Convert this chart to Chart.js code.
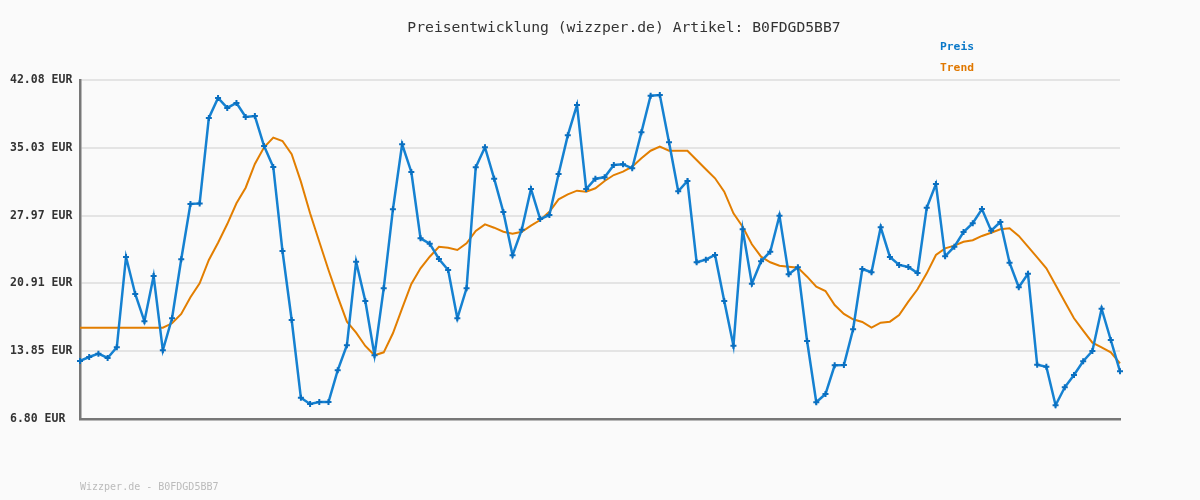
<!DOCTYPE html>
<html lang="de">
<head>
<meta charset="utf-8">
<title>Preisentwicklung B0FDGD5BB7</title>
<script src="https://cdn.jsdelivr.net/npm/chart.js@4.4.1/dist/chart.umd.min.js"></script>
<style>
    html, body { margin: 0; padding: 0; background: #fafafa; }
    #wrap { width: 1200px; height: 500px; }
</style>
</head>
<body>
<div id="wrap"><canvas id="priceChart" width="1200" height="500"></canvas></div>
<script>
// Price history (EUR), one value per sample
const preis = [
    12.84, 13.25, 13.60, 13.15, 14.26, 23.66, 19.81, 16.97, 21.68, 13.95,
    17.28, 23.42, 29.18, 29.24, 38.13, 40.21, 39.17, 39.69, 38.23, 38.33,
    35.21, 33.03, 24.28, 17.10, 9.00, 8.36, 8.57, 8.57, 11.87, 14.47,
    23.17, 19.08, 13.43, 20.40, 28.62, 35.39, 32.51, 25.60, 25.05, 23.45,
    22.31, 17.28, 20.40, 32.99, 35.08, 31.81, 28.34, 23.84, 26.50, 30.74,
    27.61, 28.03, 32.30, 36.32, 39.48, 30.74, 31.81, 31.95, 33.23, 33.31,
    32.89, 36.64, 40.45, 40.52, 35.60, 30.50, 31.57, 23.11, 23.38, 23.87,
    19.08, 14.43, 26.54, 20.88, 23.21, 24.21, 27.96, 21.86, 22.59, 14.92,
    8.54, 9.40, 12.39, 12.42, 16.14, 22.41, 22.07, 26.75, 23.66, 22.83,
    22.62, 21.99, 28.79, 31.26, 23.73, 24.73, 26.26, 27.17, 28.65, 26.40,
    27.30, 23.07, 20.51, 21.92, 12.45, 12.24, 8.23, 10.10, 11.38, 12.81,
    13.88, 18.28, 15.02, 11.76
];

// Trend line (EUR)
const trend = [
    16.30, 16.30, 16.30, 16.30, 16.30, 16.30, 16.30, 16.30, 16.30, 16.30,
    16.76, 17.73, 19.47, 20.92, 23.35, 25.15, 27.09, 29.25, 30.87, 33.34,
    35.08, 36.08, 35.73, 34.35, 31.50, 28.21, 25.25, 22.31, 19.53, 16.93,
    15.78, 14.40, 13.43, 13.74, 15.72, 18.32, 20.85, 22.48, 23.69, 24.73,
    24.63, 24.39, 25.08, 26.37, 27.06, 26.71, 26.29, 26.08, 26.29, 26.92,
    27.51, 28.37, 29.66, 30.18, 30.56, 30.46, 30.81, 31.57, 32.19, 32.54,
    33.06, 33.93, 34.72, 35.14, 34.72, 34.72, 34.72, 33.75, 32.79, 31.85,
    30.46, 28.21, 26.81, 24.98, 23.69, 23.11, 22.75, 22.65, 22.55, 21.61,
    20.57, 20.12, 18.66, 17.73, 17.18, 16.90, 16.30, 16.82, 16.93, 17.62,
    19.01, 20.30, 21.96, 23.87, 24.56, 24.84, 25.25, 25.40, 25.85, 26.19,
    26.54, 26.65, 25.85, 24.73, 23.63, 22.48, 20.75, 19.01, 17.28, 15.99,
    14.74, 14.26, 13.74, 12.60
];

// Y axis tick values
const yTicks = [6.80, 13.85, 20.91, 27.97, 35.03, 42.08];

const seriesNames = ['Preis', 'Trend'];
const seriesColors = ['#1581d1', '#e27e00'];
const legendColors = ['#0a78c8', '#e07800'];

const titleText = 'Preisentwicklung (wizzper.de) Artikel: B0FDGD5BB7';
const footerText = 'Wizzper.de - B0FDGD5BB7';

const MONO = "'DejaVu Sans Mono', 'Liberation Mono', monospace";

// Title, legend and footer are drawn straight onto the canvas
const textPlugin = {
    id: 'textPlugin',
    afterDraw(chart) {
        const ctx = chart.ctx;
        ctx.save();
        ctx.textBaseline = 'middle';

        ctx.font = '14.7px ' + MONO;
        ctx.fillStyle = '#333333';
        ctx.textAlign = 'center';
        ctx.fillText(titleText, 624, 28);

        ctx.font = 'bold 11.3px ' + MONO;
        ctx.textAlign = 'left';
        seriesNames.forEach((name, i) => {
            ctx.fillStyle = legendColors[i];
            ctx.fillText(name, 940, 47 + i * 21);
        });

        ctx.font = '10px ' + MONO;
        ctx.fillStyle = '#bbbbbb';
        ctx.fillText(footerText, 80, 487);
        ctx.restore();
    }
};

document.addEventListener('DOMContentLoaded', function () {
    const labels = preis.map((_, i) => String(i + 1));
    const ctx = document.getElementById('priceChart').getContext('2d');

    new Chart(ctx, {
        type: 'line',
        data: {
            labels: labels,
            datasets: [
                {
                    label: seriesNames[1],
                    data: trend,
                    borderColor: seriesColors[1],
                    borderWidth: 2,
                    pointRadius: 0,
                    tension: 0,
                    clip: false,
                    order: 2
                },
                {
                    label: seriesNames[0],
                    data: preis,
                    borderColor: seriesColors[0],
                    borderWidth: 2.5,
                    pointStyle: 'cross',
                    pointRadius: 3,
                    pointBorderWidth: 2,
                    pointBorderColor: '#0a6fc0',
                    pointBackgroundColor: '#0a6fc0',
                    tension: 0,
                    clip: false,
                    order: 1
                }
            ]
        },
        options: {
            responsive: false,
            animation: false,
            layout: { padding: { top: 80, left: 10, right: 80, bottom: 81 } },
            plugins: {
                legend: { display: false },
                title: { display: false },
                tooltip: { enabled: false }
            },
            scales: {
                x: {
                    offset: false,
                    grid: { display: false },
                    ticks: { display: false },
                    border: { color: '#777777', width: 2.5 },
                    afterFit: s => { s.height = 0; }
                },
                y: {
                    min: yTicks[0],
                    max: yTicks[yTicks.length - 1],
                    afterBuildTicks: s => { s.ticks = yTicks.map(v => ({ value: v })); },
                    afterFit: s => { s.width = 70; },
                    grid: { color: '#e4e4e4', lineWidth: 2, drawTicks: false },
                    border: { color: '#777777', width: 2.5 },
                    ticks: {
                        crossAlign: 'far',
                        padding: 8,
                        color: '#333333',
                        font: { family: MONO, size: 11.5, weight: 'bold' },
                        callback: v => Number(v).toFixed(2) + ' EUR'
                    }
                }
            }
        },
        plugins: [textPlugin]
    });
});
</script>
</body>
</html>
